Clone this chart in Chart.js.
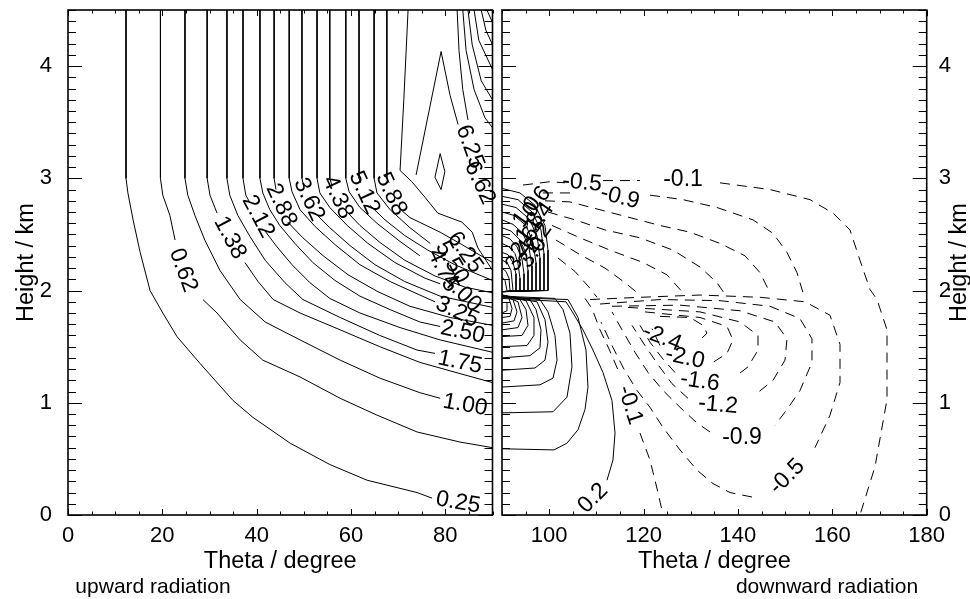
<!DOCTYPE html>
<html>
<head>
<meta charset="utf-8">
<script src="https://cdn.jsdelivr.net/npm/chart.js@4.4.1/dist/chart.umd.min.js"></script>
<style>
  html, body { margin: 0; padding: 0; background: #fff; }
  #wrap { position: relative; width: 970px; height: 599px; overflow: hidden; }
  canvas { position: absolute; top: 0; }
  #cUp { left: 0; }
  #cDown { left: 497px; }
</style>
</head>
<body>
<div id="wrap">
  <canvas id="cUp" width="497" height="599"></canvas>
  <canvas id="cDown" width="473" height="599"></canvas>
</div>
<script>
// ---------------------------------------------------------
// Dades llegides del gràfic (theta en graus, alçada en km)
// null = tall de la línia on hi ha l'etiqueta
// ---------------------------------------------------------
const upTicksX = [0, 20, 40, 60, 80];
const downTicksX = [100, 120, 140, 160, 180];
const ticksY = [0, 1, 2, 3, 4];

// panell esquerre: radiació ascendent (línies contínues)
const upTheta = [
  [12.3, 12.3, 12.7, 13.8, 15.3, 17.4, 20.1, 23.1, 28.0, 35.0, 39.2, 47.1, 55.5, 63.4, 74.0, 77.2],
  [19.6, 19.6, 20.1, 21.6, 22.7, null, 28.6, 31.6, 36.5, 41.3, 49.2, 57.7, 65.5, 74.0, 83.1, 90],
  [24.8, 24.8, 25.4, 26.9, 29.0, 32.2, 36.5, 41.8, 49.2, 57.7, 66.1, 74.6, 78.9],
  [29.5, 29.5, 30.1, 31.6, null, 37.5, 40.3, 43.5, 49.2, 57.7, 66.1, 74.6, 83.1, 90],
  [33.7, 33.7, 34.3, 36.0, 38.6, 41.8, 46.0, 49.8, 57.7, 66.1, 74.0, 77.8],
  [37.1, 37.1, 37.7, 38.6, null, 41.6, 44.3, 47.5, 51.3, 55.5, 61.9, 70.4, 78.9, 90],
  [40.7, 40.7, 41.3, 42.8, 44.9, 48.1, 51.9, 56.6, 61.9, 68.3, 74.6, 78.9],
  [43.7, 43.7, 44.1, null, 46.6, 49.8, 54.1, 59.4, 65.7, 72.5, 81.0, 90],
  [46.9, 46.9, 47.5, 49.2, 52.4, 56.6, 61.9, 68.3, 74.6, 77.8],
  [49.6, 49.6, 50.0, null, 52.4, 55.5, 59.8, 65.1, 71.4, 78.9, 90],
  [52.8, 52.8, 53.4, 55.5, 59.2, 63.6, 69.3, 75.7, 78.9],
  [55.5, 55.5, 56.0, null, 58.7, 61.9, 66.1, 71.4, 77.8, 84.2, 90],
  [58.9, 58.9, 59.6, 61.9, 65.5, 70.0, 74.6],
  [61.7, 61.7, 62.1, null, 64.0, 67.2, 71.4, 76.3, 82.0, 90],
  [64.9, 64.9, 65.5, 68.3, 72.5, 76.8],
  [67.6, 67.6, 68.1, null, 70.0, 72.5, 78.9, 83.5, 90],
  [72.1, 71.2, 70.4, 72.9, 75.7, 78.4, 83.5, 85.7, 86.9, 90],
  [73.8, 79.1, 81.0, 82.7],
  [78.9, 79.9, 79.1, 77.8, 78.9],
  [82.5, 82.9, 83.7, 84.8],
  [83.7, 84.4, 86.1, 88.4, 90],
  [84.8, 85.7, 87.6, 90],
  [86.1, 87.1, 90],
  [87.6, 88.6, 90],
  [88.8, 90]
];
const upHeight = [
  [4.5, 3.0, 2.87, 2.63, 2.34, 2.0, 1.80, 1.59, 1.35, 1.02, 0.87, 0.64, 0.45, 0.31, 0.20, 0.15],
  [4.5, 3.0, 2.85, 2.67, 2.45, null, 1.92, 1.80, 1.56, 1.38, 1.23, 1.04, 0.89, 0.74, 0.65, 0.60],
  [4.5, 3.0, 2.85, 2.67, 2.45, 2.18, 1.92, 1.72, 1.56, 1.38, 1.22, 1.09, 1.04],
  [4.5, 3.0, 2.85, 2.69, null, 2.25, 2.08, 1.92, 1.80, 1.65, 1.50, 1.36, 1.26, 1.18],
  [4.5, 3.0, 2.85, 2.67, 2.48, 2.27, 2.07, 1.92, 1.76, 1.60, 1.47, 1.44],
  [4.5, 3.0, 2.85, 2.78, null, 2.54, 2.39, 2.23, 2.07, 1.93, 1.80, 1.67, 1.56, 1.45],
  [4.5, 3.0, 2.87, 2.72, 2.58, 2.42, 2.25, 2.09, 1.95, 1.83, 1.72, 1.68],
  [4.5, 3.0, 2.90, null, 2.61, 2.47, 2.31, 2.14, 1.99, 1.86, 1.76, 1.69],
  [4.5, 3.0, 2.88, 2.72, 2.57, 2.41, 2.23, 2.08, 1.96, 1.90],
  [4.5, 3.0, 2.92, null, 2.69, 2.56, 2.40, 2.23, 2.08, 1.95, 1.85],
  [4.5, 3.0, 2.87, 2.74, 2.58, 2.42, 2.25, 2.11, 2.06],
  [4.5, 3.0, 2.93, null, 2.72, 2.58, 2.43, 2.27, 2.13, 2.03, 1.98],
  [4.5, 3.0, 2.88, 2.74, 2.60, 2.45, 2.31],
  [4.5, 3.0, 2.96, null, 2.76, 2.63, 2.49, 2.36, 2.23, 2.09],
  [4.5, 3.0, 2.87, 2.72, 2.56, 2.42],
  [4.5, 3.0, 2.96, null, 2.74, 2.65, 2.52, 2.41, 2.25],
  [4.5, 3.70, 3.07, 2.97, 2.83, 2.69, 2.61, 2.52, 2.38, 2.18],
  [3.03, 4.13, 3.74, 3.48],
  [3.22, 3.06, 2.90, 3.01, 3.22],
  [4.5, 4.14, 3.79, 3.52],
  [4.5, 4.14, 3.79, 3.54, 3.45],
  [4.5, 4.19, 3.87, 3.70],
  [4.5, 4.23, 3.97],
  [4.5, 4.32, 4.19],
  [4.5, 4.39]
];
const upLabelText = ['0.25', '0.62', '1.00', '1.38', '1.75', '2.12', '2.50', '2.88', '3.25', '3.62',
  '4.00', '4.38', '4.75', '5.12', '5.50', '5.88', '6.25', '6.25', '6.62'];
const upLabelTheta = [82.7, 24.4, 84.2, 34.3, 83.1, 40.3, 83.7, 45.2, 82.5, 51.1,
  83.5, 57.2, 79.5, 62.8, 81.4, 68.5, 84.2, 85.2, 87.3];
const upLabelHeight = [0.11, 2.18, 0.98, 2.47, 1.36, 2.66, 1.63, 2.76, 1.81, 2.81,
  1.98, 2.83, 2.18, 2.87, 2.25, 2.86, 2.34, 3.28, 2.96];
const upLabelRot = [10, 70, 10, 62, 12, 62, 12, 65, 25, 65, 45, 65, 65, 65, 60, 65, 55, 70, 65];

// panell dret: radiació descendent, valors positius (contínues)
const downSolidTheta = [
  [90, 93.81, 96.99, 99.11, 99.75, 99.75, 90],
  [90, 93.39, 96.36, 98.26, 98.90, 98.90, 90],
  [90, 92.97, 95.72, 97.42, 98.05, 98.05, 90],
  [90, 92.54, 95.09, 96.57, 97.21, 97.21, 90],
  [90, 92.33, 94.45, 95.72, 96.36, 96.36, 90],
  [90, 91.91, 93.81, 95.09, 95.51, 95.51, 90],
  [90, 91.70, 93.18, 94.24, 94.66, 94.66, 90],
  [90, 91.48, 92.75, 93.39, 93.81, 93.81, 90],
  [90, 91.27, 92.33, 92.97, 92.97, 90],
  [90, 91.06, 91.91, 92.33, 90],
  [90, 90.85, 91.48, 91.70],
  [90, 90.64, 91.06],
  [90, 101.02, 103.77, 106.11, 107.59, 108.22, 107.80, 106.11, 103.99, 90],
  [90, 100.81, 103.77, 104.83, 104.41, 102.93, 101.23, 90],
  [90, 98.05, 100.81, 101.66, 101.23, 99.75, 98.05, 90],
  [90, 96.99, 99.11, 99.75, 99.11, 97.42, 90],
  [90, 95.93, 98.05, 98.26, 97.21, 95.93, 90],
  [90, 95.30, 96.78, 96.78, 95.09, 90],
  [90, 94.24, 95.51, 95.09, 93.81, 90],
  [90, 93.39, 94.24, 93.39, 90],
  [90, 92.54, 93.18, 92.33, 90],
  [90, 91.70, 92.12, 91.48],
  [90, 91.06, 91.06],
  [112.25, 113.52, 113.95, 113.31, 111.40, 109.28, 107.16, 105.05, 103.56, 90]
];
const downSolidHeight = [
  [2.91, 2.87, 2.76, 2.58, 2.36, 2.00, 1.99],
  [2.84, 2.81, 2.70, 2.54, 2.33, 2.00, 1.99],
  [2.77, 2.74, 2.64, 2.49, 2.29, 2.00, 1.99],
  [2.70, 2.67, 2.58, 2.43, 2.25, 2.00, 1.99],
  [2.63, 2.59, 2.51, 2.38, 2.22, 2.00, 1.99],
  [2.56, 2.53, 2.45, 2.33, 2.18, 2.00, 1.99],
  [2.49, 2.46, 2.39, 2.28, 2.15, 2.00, 1.99],
  [2.42, 2.39, 2.33, 2.24, 2.11, 2.00, 1.99],
  [2.34, 2.32, 2.25, 2.15, 2.00, 1.99],
  [2.27, 2.25, 2.18, 2.00, 1.99],
  [2.20, 2.17, 2.11, 2.00],
  [2.12, 2.09, 2.00],
  [0.59, 0.58, 0.64, 0.76, 0.94, 1.14, 1.47, 1.76, 1.92, 1.94],
  [0.91, 0.92, 1.05, 1.32, 1.62, 1.83, 1.93, 1.95],
  [1.14, 1.16, 1.22, 1.38, 1.60, 1.81, 1.92, 1.95],
  [1.29, 1.31, 1.38, 1.54, 1.74, 1.90, 1.95],
  [1.40, 1.42, 1.49, 1.65, 1.83, 1.92, 1.96],
  [1.50, 1.51, 1.60, 1.76, 1.91, 1.96],
  [1.59, 1.60, 1.69, 1.83, 1.92, 1.96],
  [1.65, 1.67, 1.76, 1.90, 1.96],
  [1.71, 1.73, 1.81, 1.92, 1.96],
  [1.76, 1.77, 1.84, 1.93],
  [1.80, 1.82, 1.89],
  [0.31, 0.49, 0.73, 1.02, 1.27, 1.47, 1.65, 1.80, 1.90, 1.93]
];

// panell dret: valors negatius (discontínues)
const downDashTheta = [
  [94.45, 100.17, 103.35, null, 111.40, 119.24, null, 136.20, 146.79, 155.27, 160.14, 163.75, 165.86, 167.98, 169.47, 171.59, 171.59, 169.04, 165.86],
  [98.69, 105.05, null, 121.36, 128.36, 135.56, 143.19, 147.43, 150.39, 152.51, 153.79],
  [99.11, 104.41, 110.77, 117.12, 123.48, 129.84, 136.20, 141.49, 144.67, 146.79],
  [99.75, 105.47, 111.83, 119.24, 126.24, 131.96, 135.56, 137.68],
  [100.60, 106.53, 112.89, 119.88, 124.97, 128.36],
  [101.44, 106.53, 111.83, 116.07, 119.24],
  [101.87, 105.47, 108.65, 110.13],
  [107.59, 109.07, 110.77, 112.89, 115.01, null, 119.24, 121.36, 123.06, 124.12],
  [108.65, 119.24, 131.96, 144.67, 154.21, 159.51, 161.63, 161.63, 159.51, 156.33, null, 142.98, 138.32, 134.71, 131.32, 127.72, 124.12, 121.36, 118.61, 115.85, 113.31, 110.98],
  [110.77, 123.48, 136.20, 146.79, 153.15, 155.69, 155.69, 153.15, 150.39, 147.85, null, 134.08, 131.32, 127.72, 124.12, 120.94, 118.18, 115.43, 113.31],
  [113.31, 127.72, 140.44, 147.85, 150.39, 149.97, 147.43, 143.61, null, 129.42, 126.02, 123.06, 120.30, 117.55],
  [116.70, 131.96, 140.44, 144.25, 144.25, 142.13, 139.37, null, 126.66, 123.91, 121.36, 119.24],
  [120.30, 131.96, 137.68, 138.95, 137.68, 134.71, null, 123.48, 121.79],
  [123.48, 129.84, 132.59, 133.44, 131.96]
];
const downDashHeight = [
  [2.94, 2.97, 2.96, null, 2.98, 2.98, null, 2.96, 2.90, 2.81, 2.69, 2.54, 2.27, 2.01, 1.92, 1.65, 1.03, 0.43, 0],
  [2.87, 2.87, null, 2.85, 2.81, 2.74, 2.63, 2.51, 2.34, 2.16, 1.98],
  [2.80, 2.79, 2.72, 2.65, 2.58, 2.52, 2.42, 2.31, 2.16, 1.98],
  [2.70, 2.63, 2.54, 2.47, 2.36, 2.21, 2.07, 1.94],
  [2.58, 2.47, 2.36, 2.25, 2.14, 1.98],
  [2.45, 2.32, 2.20, 2.07, 1.96],
  [2.29, 2.17, 2.02, 1.94],
  [1.93, 1.84, 1.65, 1.46, 1.25, null, 0.73, 0.49, 0.20, 0],
  [1.92, 1.94, 1.96, 1.94, 1.90, 1.78, 1.52, 1.18, 0.89, 0.60, null, 0.16, 0.20, 0.28, 0.40, 0.58, 0.78, 0.96, 1.11, 1.30, 1.51, 1.72],
  [1.88, 1.92, 1.91, 1.86, 1.75, 1.57, 1.36, 1.11, 0.94, 0.80, null, 0.74, 0.82, 0.96, 1.11, 1.27, 1.45, 1.65, 1.81],
  [1.86, 1.87, 1.82, 1.72, 1.57, 1.38, 1.20, 1.07, null, 1.04, 1.17, 1.34, 1.51, 1.69],
  [1.85, 1.81, 1.72, 1.60, 1.47, 1.32, 1.23, null, 1.27, 1.40, 1.54, 1.69],
  [1.81, 1.76, 1.68, 1.56, 1.44, 1.36, null, 1.51, 1.66],
  [1.77, 1.76, 1.69, 1.62, 1.56]
];
const downLabelText = ['-0.5', '-0.9', '-0.1', '-0.1', '0.2', '-2.4', '-2.0', '-1.6', '-1.2', '-0.9', '-0.5',
  '0.6', '1.0', '1.4', '1.8', '2.2', '2.6', '3.0', '3.4'];
const downLabelTheta = [106.95, 115.0, 128.36, 117.12, 109.28, 123.91, 128.78, 131.96, 135.77, 140.86, 150.39,
  97.42, 95.30, 98.05, 95.93, 97.63, 94.87, 96.57, 93.81];
const downLabelHeight = [2.96, 2.83, 2.99, 0.98, 0.15, 1.58, 1.40, 1.19, 0.98, 0.69, 0.34,
  2.79, 2.70, 2.65, 2.56, 2.47, 2.43, 2.34, 2.31];
const downLabelRot = [5, 15, 0, 72, -45, 22, 12, 8, 5, 0, -45,
  -55, -55, -55, -55, -55, -55, -55, -55];

// =========================================================
// CONFIGURACIÓ COMUNA
// =========================================================
const FONT = "'Liberation Sans', Arial, Helvetica, sans-serif";

function liniesDe(thetas, heights, dash) {
  return thetas.map((th, i) => ({
    data: th.map((t, j) => ({ x: t, y: heights[i][j] })),
    showLine: true,
    borderColor: '#000',
    borderWidth: 1,
    borderDash: dash ? [10, 7] : [],
    pointRadius: 0,
    tension: 0,
    spanGaps: false,
    fill: false
  }));
}

// marc, marques internes, etiquetes de contorn i textos solts
function pluginMarc(majorX, labels, extra) {
  return {
    id: 'marc',
    afterDatasetsDraw(chart) {
      const { ctx, chartArea: a, scales: { x, y } } = chart;
      ctx.save();
      ctx.strokeStyle = '#000';
      ctx.lineWidth = 1;
      ctx.beginPath();
      for (let v = x.min; v <= x.max + 1e-6; v += 5) {
        const px = Math.round(x.getPixelForValue(v)) + 0.5;
        const len = majorX.includes(v) ? 6 : 3.5;
        ctx.moveTo(px, a.bottom); ctx.lineTo(px, a.bottom - len);
        ctx.moveTo(px, a.top); ctx.lineTo(px, a.top + len);
      }
      for (let k = 0; k <= 45; k++) {
        const v = k / 10;
        const py = Math.round(y.getPixelForValue(v)) + 0.5;
        const len = k % 10 === 0 ? 14 : 8;
        ctx.moveTo(a.left, py); ctx.lineTo(a.left + len, py);
        ctx.moveTo(a.right, py); ctx.lineTo(a.right - len, py);
      }
      ctx.stroke();
      ctx.lineWidth = 1.6;
      ctx.strokeRect(a.left, a.top, a.right - a.left, a.bottom - a.top);

      ctx.fillStyle = '#000';
      ctx.font = '23px ' + FONT;
      ctx.textAlign = 'center';
      ctx.textBaseline = 'middle';
      labels.text.forEach((t, i) => {
        ctx.save();
        ctx.translate(x.getPixelForValue(labels.theta[i]), y.getPixelForValue(labels.height[i]));
        ctx.rotate(labels.rot[i] * Math.PI / 180);
        ctx.fillText(t, 0, 0);
        ctx.restore();
      });
      ctx.restore();
      extra(ctx, chart);
    }
  };
}

function escalaX(min, max, ticks, h) {
  return {
    type: 'linear', position: 'bottom', min, max,
    afterBuildTicks: s => { s.ticks = ticks.map(v => ({ value: v })); },
    afterFit: s => { s.height = h; s.paddingLeft = 0; s.paddingRight = 0; },
    grid: { display: false }, border: { display: false },
    ticks: { color: '#000', font: { family: FONT, size: 22 }, padding: 0, maxRotation: 0, autoSkip: false },
    title: { display: true, text: 'Theta / degree', color: '#000', font: { family: FONT, size: 23.5 }, padding: { top: 0, bottom: 23 } }
  };
}

function escalaY(pos, w, pad, titol) {
  return {
    type: 'linear', position: pos, min: 0, max: 4.5,
    afterBuildTicks: s => { s.ticks = ticksY.map(v => ({ value: v })); },
    afterFit: s => { s.width = w; s.paddingTop = 0; s.paddingBottom = 0; },
    grid: { display: false }, border: { display: false },
    ticks: { color: '#000', font: { family: FONT, size: 22 }, padding: pad, autoSkip: false },
    title: { display: titol, text: 'Height / km', color: '#000', font: { family: FONT, size: 23.5 }, padding: { top: 12, bottom: 0 } }
  };
}

function opcions(padding, sx, sy) {
  return {
    responsive: false, animation: false, devicePixelRatio: 1, events: [],
    layout: { padding },
    plugins: { legend: { display: false }, tooltip: { enabled: false } },
    scales: { x: sx, y: sy }
  };
}

// =========================================================
// GRÀFICS
// =========================================================
new Chart(document.getElementById('cUp'), {
  type: 'scatter',
  data: { datasets: liniesDe(upTheta, upHeight, false) },
  options: opcions({ left: 0, right: 4.5, top: 10, bottom: 0 },
    escalaX(0, 90, upTicksX, 84), escalaY('left', 68, 8, true)),
  plugins: [pluginMarc(upTicksX,
    { text: upLabelText, theta: upLabelTheta, height: upLabelHeight, rot: upLabelRot },
    (ctx) => {
      ctx.save();
      ctx.fillStyle = '#000';
      ctx.font = '21px ' + FONT;
      ctx.textAlign = 'center';
      ctx.textBaseline = 'middle';
      ctx.fillText('upward radiation', 153, 587);
      ctx.restore();
    })]
});

new Chart(document.getElementById('cDown'), {
  type: 'scatter',
  data: { datasets: liniesDe(downSolidTheta, downSolidHeight, false).concat(liniesDe(downDashTheta, downDashHeight, true)) },
  options: opcions({ left: 5, right: 0, top: 10, bottom: 0 },
    escalaX(90, 180, downTicksX, 84), escalaY('right', 43.3, 4, false)),
  plugins: [pluginMarc(downTicksX,
    { text: downLabelText, theta: downLabelTheta, height: downLabelHeight, rot: downLabelRot },
    (ctx, chart) => {
      const a = chart.chartArea;
      ctx.save();
      ctx.fillStyle = '#000';
      ctx.textAlign = 'center';
      ctx.textBaseline = 'middle';
      ctx.font = '21px ' + FONT;
      ctx.fillText('downward radiation', 330, 587);
      ctx.font = '23.5px ' + FONT;
      ctx.translate(463, (a.top + a.bottom) / 2);
      ctx.rotate(-Math.PI / 2);
      ctx.fillText('Height / km', 0, 0);
      ctx.restore();
    })]
});
</script>
</body>
</html>
